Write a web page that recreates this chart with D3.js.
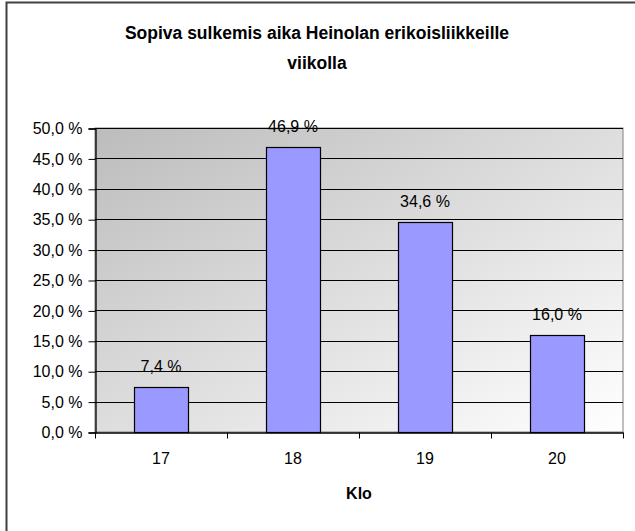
<!DOCTYPE html>
<html><head><meta charset="utf-8">
<script src="https://cdn.jsdelivr.net/npm/d3@7"></script>
<style>body{margin:0;background:#fff}svg{display:block}text{font-family:"Liberation Sans",Arial,sans-serif}</style>
</head><body>
<svg id="c" width="635" height="531"></svg>
<script>
const categories = ["17", "18", "19", "20"];
const values = [7.4, 46.9, 34.6, 16.0];
const yTicks = [0, 5, 10, 15, 20, 25, 30, 35, 40, 45, 50];
const titleLines = ["Sopiva sulkemis aika Heinolan erikoisliikkeille", "viikolla"];
const xTitle = "Klo";

const svg = d3.select("#c");
const L = 95, R = 623, T = 128, B = 432;
const FS = 16;
const fmt = v => v.toFixed(1).replace(".", ",") + " %";

// outer border
svg.append("rect").attr("x", 6.5).attr("y", 2.5).attr("width", 700).attr("height", 600)
  .attr("fill", "#fff").attr("stroke", "#404040").attr("stroke-width", 2);

const defs = svg.append("defs");
const g = defs.append("linearGradient").attr("id", "bg").attr("x1", "0").attr("y1", "0").attr("x2", "1").attr("y2", "1");
g.append("stop").attr("offset", "0").attr("stop-color", "#bcbcbc");
g.append("stop").attr("offset", "1").attr("stop-color", "#ffffff");

const x = d3.scaleBand().domain(categories).range([L, R]).paddingInner(0.59).paddingOuter(0.295);
const y = d3.scaleLinear().domain([0, 50]).range([B, T]);

svg.append("rect").attr("x", L).attr("y", T).attr("width", R - L).attr("height", B - T)
  .attr("fill", "url(#bg)").attr("stroke", "#808080").attr("stroke-width", 1);

// gridlines
svg.append("g").selectAll("line").data(yTicks.filter(d => d > 0)).join("line")
  .attr("x1", L).attr("x2", R).attr("y1", d => Math.round(y(d)) + 0.5).attr("y2", d => Math.round(y(d)) + 0.5)
  .attr("stroke", "#000").attr("stroke-width", 1);

// bars
svg.append("g").selectAll("rect").data(values).join("rect")
  .attr("x", (d, i) => Math.round(x(categories[i])) + 0.5)
  .attr("y", d => Math.round(y(d)) + 0.5)
  .attr("width", Math.round(x.bandwidth()))
  .attr("height", d => Math.round(y(0)) - Math.round(y(d)))
  .attr("fill", "#9999ff").attr("stroke", "#000").attr("stroke-width", 1.2);

// value labels
svg.append("g").selectAll("text").data(values).join("text")
  .attr("x", (d, i) => x(categories[i]) + x.bandwidth() / 2)
  .attr("y", d => y(d) - 15)
  .attr("text-anchor", "middle").attr("font-size", FS).attr("fill", "#000")
  .text(d => fmt(d));

// y axis
const yAxis = d3.axisLeft(y).tickValues(yTicks).tickSize(7).tickPadding(6).tickFormat(d => fmt(d));
const ya = svg.append("g").attr("transform", `translate(${L + 0.5},0.5)`).call(yAxis);
ya.select(".domain").attr("stroke", "#000").attr("stroke-width", 1.3);
ya.selectAll("text").attr("font-size", FS).attr("font-family", '"Liberation Sans",Arial,sans-serif').attr("fill", "#000");
ya.selectAll(".tick line").attr("stroke", "#000");

// x axis
const xAxis = d3.axisBottom(x).tickSize(0).tickPadding(0);
const xa = svg.append("g").attr("transform", `translate(0,${B + 0.5})`).call(xAxis);
xa.select(".domain").attr("stroke", "#000").attr("stroke-width", 1.3);
xa.selectAll("text").attr("font-size", FS).attr("font-family", '"Liberation Sans",Arial,sans-serif').attr("fill", "#000").attr("dy", null).attr("y", 31);
// category boundary ticks
const bounds = categories.map(c => x(c) - x.step() * x.paddingInner() / 2).concat([R]);
xa.append("g").selectAll("line").data(bounds).join("line")
  .attr("x1", d => Math.round(d) + 0.5).attr("x2", d => Math.round(d) + 0.5).attr("y1", 0).attr("y2", 6)
  .attr("stroke", "#000");

// titles
svg.append("text").attr("x", 317).attr("text-anchor", "middle").attr("font-size", 17.5).attr("font-weight", "bold")
  .selectAll("tspan").data(titleLines).join("tspan").attr("x", 317).attr("y", (d, i) => 39 + i * 30).text(d => d);
svg.append("text").attr("x", 359).attr("y", 499).attr("text-anchor", "middle").attr("font-size", FS).attr("font-weight", "bold").text(xTitle);
</script>
</body></html>
